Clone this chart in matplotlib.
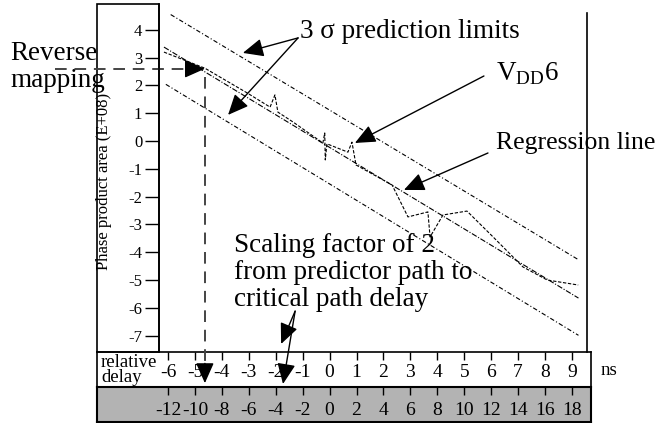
import matplotlib
matplotlib.use('Agg')
import matplotlib.pyplot as plt
from matplotlib.patches import Rectangle

plt.rcParams['font.family'] = ['Liberation Serif', 'DejaVu Serif']
plt.rcParams['mathtext.fontset'] = 'custom'
plt.rcParams['mathtext.rm'] = 'Liberation Serif'
plt.rcParams['axes.unicode_minus'] = False

# relative delay (ns) and phase product area (E+08)
upper_x = [-5.9, 9.24]
upper_y = [4.55, -4.27]
lower_x = [-6.08, 9.24]
lower_y = [2.04, -6.99]
regr_x = [-6.15, 9.24]
regr_y = [3.38, -5.65]

vdd6_x = [-6.15, -4.63, -3.06, -2.21, -2.03, -1.92, -1.35, -0.25, -0.18, -0.16,
          -0.1, 0.68, 0.83, 0.98, 2.32, 2.91, 3.65, 3.73, 4.21, 5.10, 6.07,
          7.18, 8.08, 9.23]
vdd6_y = [3.20, 2.62, 1.73, 1.22, 1.66, 1.04, 0.68, -0.07, 0.29, -0.68,
          -0.1, -0.40, -0.04, -0.86, -1.58, -2.73, -2.55, -3.45, -2.66, -2.52,
          -3.45, -4.53, -5.00, -5.18]

y_ticks = [4, 3, 2, 1, 0, -1, -2, -3, -4, -5, -6, -7]
rel_ticks = [-6, -5, -4, -3, -2, -1, 0, 1, 2, 3, 4, 5, 6, 7, 8, 9]
crit_ticks = [-12, -10, -8, -6, -4, -2, 0, 2, 4, 6, 8, 10, 12, 14, 16, 18]

# reverse mapping point
rev_x, rev_y = -4.63, 2.6

W, H = 662, 423


def fx(px):
    return px / W


def fy(py):
    return 1 - py / H


fig = plt.figure(figsize=(6.62, 4.23), dpi=100)

# white strip: relative delay
ax_rel = fig.add_axes([fx(97), fy(387), (591 - 97) / W, 35 / H])
ax_rel.set_xlim(-8.636, 9.706)
ax_rel.set_ylim(0, 1)
ax_rel.set_yticks([])
ax_rel.set_xticks(rel_ticks)
ax_rel.set_xticklabels([str(t) for t in rel_ticks])
ax_rel.tick_params(axis='x', top=True, bottom=False, direction='in', length=6,
                   width=1, labelsize=14, pad=-16.5)
for s in ax_rel.spines.values():
    s.set_linewidth(1.2)

# grey strip: critical path delay
ax_crit = fig.add_axes([fx(97), fy(422), (591 - 97) / W, 35 / H])
ax_crit.set_facecolor('#b3b3b3')
ax_crit.set_xlim(-8.636 * 2, 9.706 * 2)
ax_crit.set_ylim(0, 1)
ax_crit.set_yticks([])
ax_crit.set_xticks(crit_ticks)
ax_crit.set_xticklabels([str(t) for t in crit_ticks])
ax_crit.tick_params(axis='x', top=True, bottom=False, direction='in', length=6,
                    width=1, labelsize=14, pad=-14.5)
for s in ax_crit.spines.values():
    s.set_linewidth(1.5)

# left box behind the y axis
fig.add_artist(Rectangle((fx(97), fy(352)), (159 - 97) / W, (352 - 4) / H,
                         transform=fig.transFigure, fill=False, lw=1.2, ec='k'))

# main plot
ax = fig.add_axes([fx(159), fy(352), (587 - 159) / W, (352 - 4) / H])
ax.set_zorder(3)
ax.set_facecolor('none')
ax.set_xlim(-6.334, 9.557)
ax.set_ylim(-7.59, 4.93)
ax.spines['top'].set_visible(False)
ax.spines['bottom'].set_visible(False)
ax.spines['left'].set_linewidth(1.2)
ax.spines['right'].set_linewidth(1.2)
ax.spines['right'].set_bounds(-7.59, 4.60)
ax.set_xticks([])
ax.set_yticks(y_ticks)
ax.set_yticklabels([str(t) for t in y_ticks])
ax.tick_params(axis='y', direction='out', length=10, width=1, labelsize=12, pad=2)
ax.set_ylabel('Phase product area (E+08)', fontsize=12)
ax.yaxis.set_label_coords(-0.11, 0.49)

ax.plot(upper_x, upper_y, color='k', lw=0.8, ls=(0, (4, 2, 1, 2)))
ax.plot(lower_x, lower_y, color='k', lw=0.8, ls=(0, (4, 2, 1, 2)))
ax.plot(regr_x, regr_y, color='k', lw=0.8, ls=(0, (5, 1.5, 1, 1.5)))
ax.plot(vdd6_x, vdd6_y, color='k', lw=0.8, ls=(0, (3, 1.5)))

head = dict(arrowstyle='-|>,head_length=0.45,head_width=0.2', color='k', lw=1,
            mutation_scale=28, shrinkA=0, shrinkB=0)


def arrow(tip, start):
    ax.annotate('', xy=tip, xytext=start, arrowprops=head, annotation_clip=False)


arrow((-3.22, 3.17), (-1.17, 3.71))
arrow((-3.77, 0.94), (-1.17, 3.71))
arrow((0.94, -0.07), (5.73, 2.34))
arrow((2.76, -1.76), (5.88, -0.43))
arrow((-1.80, -7.30), (-1.28, -6.12))
arrow((-1.73, -8.74), (-1.28, -6.12))

# reverse mapping dashed arrows
dash = dict(color='#444444', lw=1.4, ls=(0, (6, 4)), clip_on=False)
ax.plot([-10.2, rev_x - 0.5], [rev_y, rev_y], **dash)
ax.plot([rev_x, rev_x], [rev_y - 0.3, -8.3], **dash)
arrow((rev_x, rev_y), (rev_x - 0.7, rev_y))
arrow((rev_x, -8.71), (rev_x, -8.0))

fs = 19.5
fig.text(fx(300), fy(31), '3 σ prediction limits', fontsize=fs, va='center')
fig.text(fx(496), fy(74), r'V$_{\mathrm{DD}}$6', fontsize=fs, va='center')
fig.text(fx(496), fy(143), 'Regression line', fontsize=18.5, va='center')
fig.text(fx(10), fy(67), 'Reverse\nmapping', fontsize=fs, va='center', linespacing=1.08)
fig.text(fx(234), fy(233), 'Scaling factor of 2\nfrom predictor path to\ncritical path delay',
         fontsize=fs, va='top', linespacing=1.1)
fig.text(fx(101), fy(370), 'relative\ndelay', fontsize=13.5, va='center', linespacing=0.8)
fig.text(fx(601), fy(370), 'ns', fontsize=13.5, va='center')

fig.savefig('out.png', dpi=100)
